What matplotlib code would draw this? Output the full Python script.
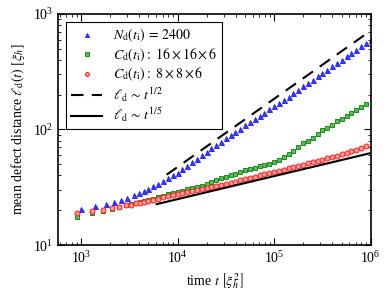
import numpy as np
import matplotlib
matplotlib.use("Agg")
import matplotlib.pyplot as plt

plt.rcParams['font.family'] = ['Liberation Serif', 'DejaVu Serif']
plt.rcParams['mathtext.fontset'] = 'stix'
plt.rcParams['font.size'] = 10

# late sampling times (shared)
t_late = [4500, 5000, 5600, 6300, 7100, 8000, 8900,
          10000, 11220, 12590, 14130, 15850, 17780, 19950, 22390, 25120, 28180,
          31620, 35480, 39810, 44670, 50120, 56230, 63100, 70790, 79430, 89130,
          100000, 112200, 125900, 141300, 158500, 177800, 199500, 223900, 251200, 281800,
          316200, 354800, 398100, 446700, 501200, 562300, 631000, 707900, 794300, 891300]

# N_d(t_i) = 2400
t_blue = [1000, 1400, 1800, 2200, 2600, 3000, 3500, 4000] + t_late + [1000000]
l_blue = [20.7, 21.8, 22.7, 23.7, 24.6, 25.6, 27.0, 28.3,
          29.6, 30.8, 32.3, 34.0, 36.0, 38.2, 40.0,
          42.2, 45.3, 48.6, 52.1, 55.8, 59.8, 64.0, 68.5, 73.3, 78.4,
          83.8, 89.5, 95.5, 101.9, 108.7, 115.9, 123.5, 131.6, 140.2, 149.3,
          159.0, 169.5, 180.8, 192.8, 206.2, 220.4, 235.6, 251.9, 269.3, 287.9,
          307.8, 329.1, 351.8, 376.1, 402.1, 429.9, 459.6, 491.4, 525.3, 561.6,
          598.0]

t_small = [900, 1300, 1700, 2100, 2500, 2900, 3300, 3700, 4100] + t_late

# C_d(t_i) : 16x16x6
l_green = [17.6, 18.9, 19.9, 20.6, 21.4, 22.0, 22.5, 23.0, 23.5,
           24.0, 24.5, 25.1, 25.8, 26.6, 27.4, 28.1,
           28.8, 29.5, 30.3, 31.0, 31.8, 32.7, 33.8, 35.2, 36.4, 37.7,
           39.0, 40.3, 41.6, 43.0, 44.3, 45.5, 46.7, 47.9, 49.2, 50.6,
           52.5, 54.8, 57.5, 61.0, 65.0, 70.0, 76.0, 80.0, 84.5, 90.5,
           98.0, 104.0, 110.0, 118.0, 124.0, 131.0, 140.0, 148.0, 155.0, 166.0]

# C_d(t_i) : 8x8x6
l_red = [19.1, 19.6, 20.1, 20.8, 21.5, 22.0, 22.4, 22.9, 23.3,
         23.7, 24.1, 24.6, 25.2, 25.9, 26.6, 27.2,
         27.7, 28.2, 28.8, 29.4, 30.0, 30.6, 31.2, 31.8, 32.4, 33.0,
         33.7, 34.5, 35.4, 36.3, 37.2, 38.1, 39.1, 40.1, 41.0, 42.0,
         43.0, 44.0, 45.0, 46.1, 47.2, 48.4, 49.6, 50.8, 52.0, 53.3,
         54.7, 56.1, 57.7, 59.3, 61.0, 62.9, 64.9, 67.0, 69.3, 71.8]

# guide lines
t_half = [7700, 1000000]
l_half = [40.6, 716]
t_fifth = [6080, 1000000]
l_fifth = [22.6, 62.5]

fig = plt.figure(figsize=(3.9, 2.9), dpi=100)
ax = fig.add_axes([0.149, 0.155, 0.8015, 0.797])

ax.plot(t_blue, l_blue, '^', ms=3.6, mfc='#3b3bff', mec='#1a1aee', mew=0.6,
        label=r'$N_{\rm d}(t_{\rm i})\, =\, 2400$')
ax.plot(t_small, l_green, 's', ms=3.4, mfc='#5fb85f', mec='#1a8a1a', mew=0.7,
        label=r'$C_{\rm d}(t_{\rm i}):\ 16\times16\times6$')
ax.plot(t_small, l_red, 'o', ms=3.6, mfc='#ff9a9a', mec='#ff2020', mew=0.7,
        label=r'$C_{\rm d}(t_{\rm i}):\ 8\times8\times6$')
ax.plot(t_half, l_half, '--', color='black', lw=1.5, dashes=(6, 4),
        label=r'$\ell_{\rm d}\,\sim\,t^{1/2}$')
ax.plot(t_fifth, l_fifth, '-', color='black', lw=1.5,
        label=r'$\ell_{\rm d}\,\sim\,t^{1/5}$')

ax.set_xscale('log')
ax.set_yscale('log')
ax.set_xlim(580, 1e6)
ax.set_ylim(10, 1000)
ax.tick_params(which='both', direction='in', top=True, right=True)
ax.tick_params(which='major', length=5, width=0.8)
ax.tick_params(which='minor', length=2.5, width=0.6)
for s in ax.spines.values():
    s.set_linewidth(1.2)

ax.set_xlabel(r'time $t\ \left[\xi_h^2\right]$')
ax.set_ylabel(r'mean defect distance $\ell_{\rm d}(t)\ [\xi_h]$')

leg = ax.legend(loc='upper left', numpoints=1, fancybox=False, framealpha=1,
                edgecolor='black', borderaxespad=0.6, labelspacing=0.15,
                handlelength=2.2, handletextpad=0.8, borderpad=0.35,
                markerscale=0.8, fontsize=10)
leg.get_frame().set_linewidth(0.8)

fig.savefig('out.png', dpi=100)
